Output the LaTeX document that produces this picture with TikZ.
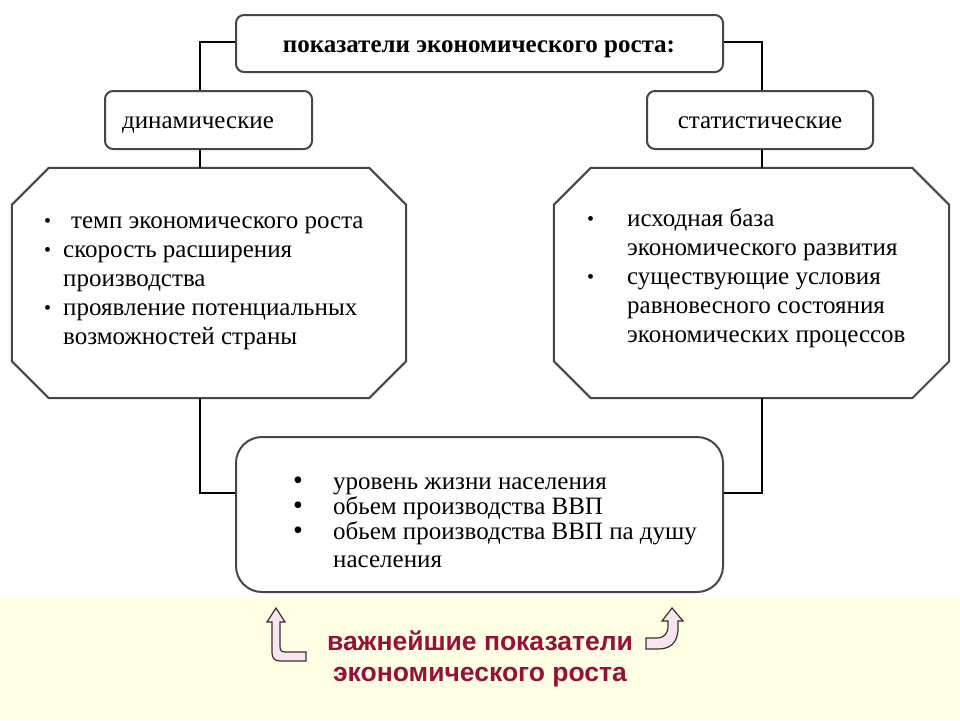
\documentclass[tikz,border=0pt]{standalone}
\usepackage{fontspec}
\setmainfont{Liberation Serif}
\newfontfamily\redsans{Liberation Sans}
\definecolor{bandyellow}{RGB}{255,255,228}
\definecolor{boxline}{RGB}{70,70,70}
\definecolor{redtext}{RGB}{150,16,58}
\definecolor{arrowpink}{RGB}{250,228,240}
\newcommand\smbul{\smash{\raisebox{1pt}{\fontsize{20}{20}\selectfont\textbullet}}}
\newcommand\bgbul{\smash{\raisebox{0pt}{\fontsize{28}{25}\selectfont\textbullet}}}
\begin{document}
\begin{tikzpicture}[x=1pt,y=-1pt,
  rbox/.style={draw=boxline,line width=2pt,rounded corners=8pt,inner sep=0pt,fill=white},
  octarea/.style={inner sep=0pt},
  octline/.style={draw=boxline,line width=2pt,fill=white,line join=miter},
  conn/.style={draw=black,line width=1.6pt},
  txt/.style={inner sep=0pt,font=\fontsize{25}{29}\selectfont},
  redlbl/.style={inner sep=0pt,text=redtext,font=\redsans\bfseries\fontsize{26.5}{31}\selectfont},
  bentarrow/.style={draw=black!80,line width=1.2pt,fill=arrowpink,line join=miter}]
\useasboundingbox (0,0) rectangle (960,720);
\fill[white] (0,0) rectangle (960,597);
\fill[bandyellow] (0,597) rectangle (960,720);
\coordinate (lx) at (200,0);
\coordinate (rx) at (762,0);
\coordinate (ly) at (0,493);
\coordinate (ty) at (0,42);
% boxes
\node[rbox,minimum width=487pt,minimum height=57pt] (top) at (479.5,43.5) {};
\node[rbox,minimum width=207pt,minimum height=58pt] (dyn) at (208.5,120) {};
\node[rbox,minimum width=226pt,minimum height=58pt] (stat) at (760,120) {};
\node[octarea,minimum width=394pt,minimum height=230pt] (loct) at (209,283) {};
\node[octarea,minimum width=395pt,minimum height=230pt] (roct) at (751.5,283) {};
\foreach \o in {loct,roct}{
  \path[octline] ([xshift=37pt]\o.north west) -- ([xshift=-37pt]\o.north east)
    -- ([yshift=-37pt]\o.north east) -- ([yshift=37pt]\o.south east)
    -- ([xshift=-37pt]\o.south east) -- ([xshift=37pt]\o.south west)
    -- ([yshift=37pt]\o.south west) -- ([yshift=-37pt]\o.north west) -- cycle;
}
\node[rbox,rounded corners=26pt,minimum width=487pt,minimum height=155pt] (bot) at (479.5,514.5) {};
% connectors
\draw[conn] (top.west |- ty) -| (dyn.north -| lx);
\draw[conn] (top.east |- ty) -| (stat.north -| rx);
\draw[conn] (dyn.south -| lx) -- (loct.north -| lx);
\draw[conn] (stat.south -| rx) -- (roct.north -| rx);
\draw[conn] (loct.south -| lx) |- (bot.west |- ly);
\draw[conn] (roct.south -| rx) |- (bot.east |- ly);
% texts
\node[txt,font=\bfseries\fontsize{25}{29}\selectfont,anchor=base] (toptxt) at (479,52) {показатели экономического роста:};
\node[txt,anchor=base] (dyntxt) at (198,128) {динамические};
\node[txt,anchor=base] (stattxt) at (760,128) {статистические};
\node[txt,anchor=base west] (ltxt) at (44,228) {\begin{tabular}[t]{@{}p{19pt}@{}l@{}}
\smbul & \hspace{8pt}темп экономического роста\\
\smbul & скорость расширения\\
 & производства\\
\smbul & проявление потенциальных\\
 & возможностей страны
\end{tabular}};
\node[txt,anchor=base west] (rtxt) at (587,226) {\begin{tabular}[t]{@{}p{40pt}@{}l@{}}
\smbul & исходная база\\
 & экономического развития\\
\smbul & существующие условия\\
 & равновесного состояния\\
 & экономических процессов
\end{tabular}};
\node[txt,font=\fontsize{25}{25}\selectfont,anchor=base west] (btxt) at (293,489) {\begin{tabular}[t]{@{}p{40pt}@{}l@{}}
\bgbul & уровень жизни населения\\
\bgbul & обьем производства ВВП\\
\bgbul & обьем производства ВВП па душу\\[3pt]
 & населения
\end{tabular}};
\node[redlbl,anchor=base,align=center] (red) at (480,681) {важнейшие показатели\\экономического роста};
% bent arrows
\path[bentarrow] (276,608) -- (285,622) -- (280,622) -- (280,646)
  .. controls (280,650) and (281,652) .. (285,652) -- (306,652) -- (306,661) -- (280,661)
  .. controls (275,661) and (272,658) .. (272,653) -- (272,622) -- (267,622) -- cycle;
\path[bentarrow] (672,608) -- (683,621) -- (678,621) -- (678,628)
  .. controls (678,643) and (670,649) .. (658,649) -- (646,649) -- (646,638) -- (656,638)
  .. controls (664,638) and (668,634) .. (668,626) -- (668,621) -- (662,621) -- cycle;
\end{tikzpicture}
\end{document}
